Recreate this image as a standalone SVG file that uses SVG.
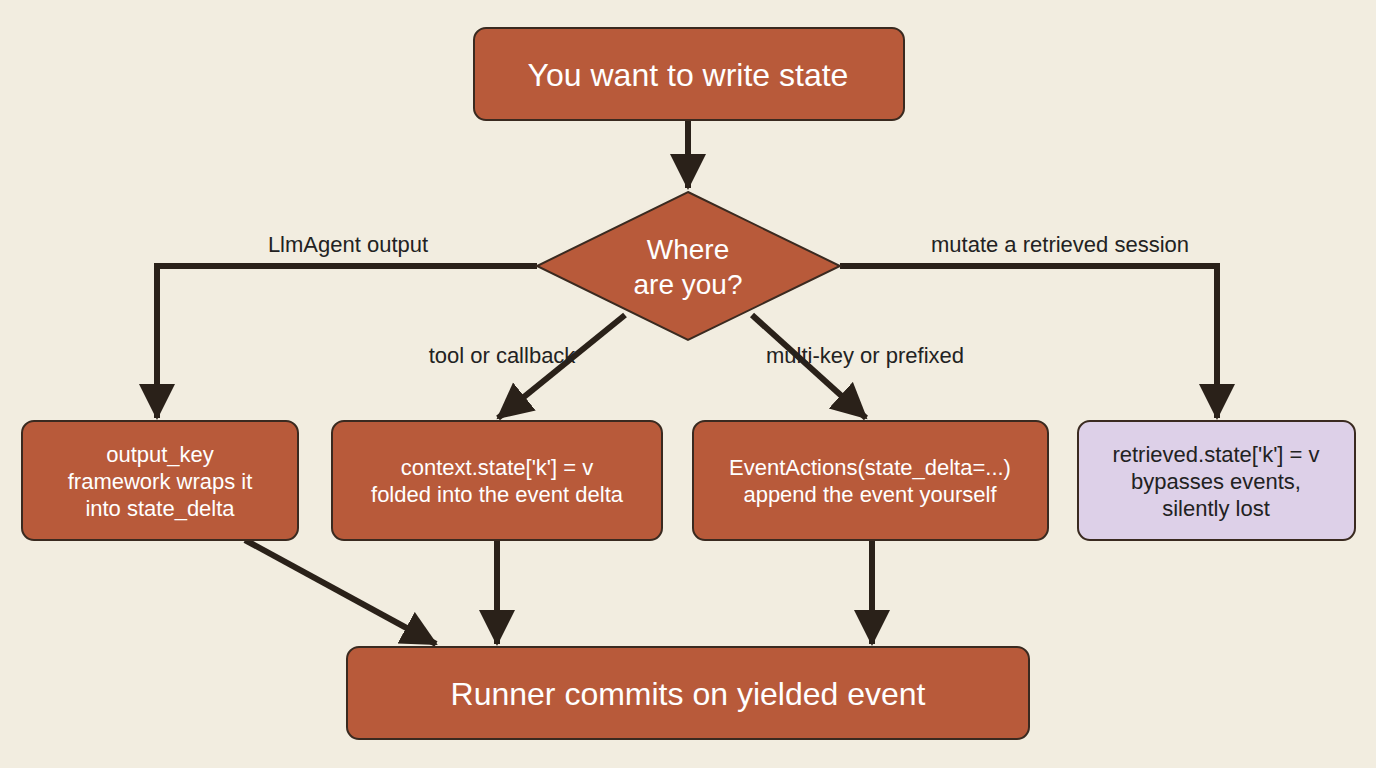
<svg xmlns="http://www.w3.org/2000/svg" width="1376" height="768" viewBox="0 0 1376 768">
<style>
.n{fill:#b85a3a;stroke:#3a2a20;stroke-width:2}
.p{fill:#ddd0e8;stroke:#3a2a20;stroke-width:2}
.t{font-family:"Liberation Sans",Arial,sans-serif;fill:#fff;text-anchor:middle}
.d{fill:#222}
.l{font-family:"Liberation Sans",Arial,sans-serif;fill:#222;font-size:22px;text-anchor:middle}
.c{fill:none;stroke:#2a2119;stroke-width:6}
</style>
<defs><marker id="a" markerUnits="userSpaceOnUse" markerWidth="40" markerHeight="40" refX="34" refY="18" orient="auto"><path d="M0,0 L36,18 L0,36 Z" fill="#2a2119"/></marker></defs>
<rect width="1376" height="768" fill="#f2ede0"/>
<g id="connectors">
<path class="c" d="M688,120 V188" marker-end="url(#a)"/>
<path class="c" d="M537,266 H157 V418" marker-end="url(#a)"/>
<path class="c" d="M840,266 H1217 V418" marker-end="url(#a)"/>
<path class="c" d="M625,315 L498,418" marker-end="url(#a)"/>
<path class="c" d="M752,315 L866,418" marker-end="url(#a)"/>
<path class="c" d="M245,540 L436,644" marker-end="url(#a)"/>
<path class="c" d="M497,540 V644" marker-end="url(#a)"/>
<path class="c" d="M872,540 V644" marker-end="url(#a)"/>
<text class="l" x="348" y="252">LlmAgent output</text>
<text class="l" x="1060" y="252">mutate a retrieved session</text>
<text class="l" x="502" y="363">tool or callback</text>
<text class="l" x="865" y="363">multi-key or prefixed</text>
</g>
<g id="start"><rect class="n" x="474" y="28" width="430" height="92" rx="12"/><text class="t" x="688" y="86" font-size="32">You want to write state</text></g>
<g id="decision"><path class="n" d="M688,192 L840,266 L688,340 L537,266 Z"/><text class="t" x="688" y="259" font-size="28">Where</text><text class="t" x="688" y="294" font-size="28">are you?</text></g>
<g id="n1"><rect class="n" x="22" y="421" width="276" height="119" rx="12"/><text class="t" font-size="22"><tspan x="160" y="462">output_key</tspan><tspan x="160" y="489">framework wraps it</tspan><tspan x="160" y="516">into state_delta</tspan></text></g>
<g id="n2"><rect class="n" x="332" y="421" width="330" height="119" rx="12"/><text class="t" font-size="22"><tspan x="497" y="475">context.state['k'] = v</tspan><tspan x="497" y="502">folded into the event delta</tspan></text></g>
<g id="n3"><rect class="n" x="693" y="421" width="355" height="119" rx="12"/><text class="t" font-size="22"><tspan x="870" y="475">EventActions(state_delta=...)</tspan><tspan x="870" y="502">append the event yourself</tspan></text></g>
<g id="n4"><rect class="p" x="1078" y="421" width="277" height="119" rx="12"/><text class="t d" font-size="22"><tspan x="1216" y="462">retrieved.state['k'] = v</tspan><tspan x="1216" y="489">bypasses events,</tspan><tspan x="1216" y="516">silently lost</tspan></text></g>
<g id="end"><rect class="n" x="347" y="647" width="682" height="92" rx="12"/><text class="t" x="688" y="705" font-size="32">Runner commits on yielded event</text></g>
</svg>
